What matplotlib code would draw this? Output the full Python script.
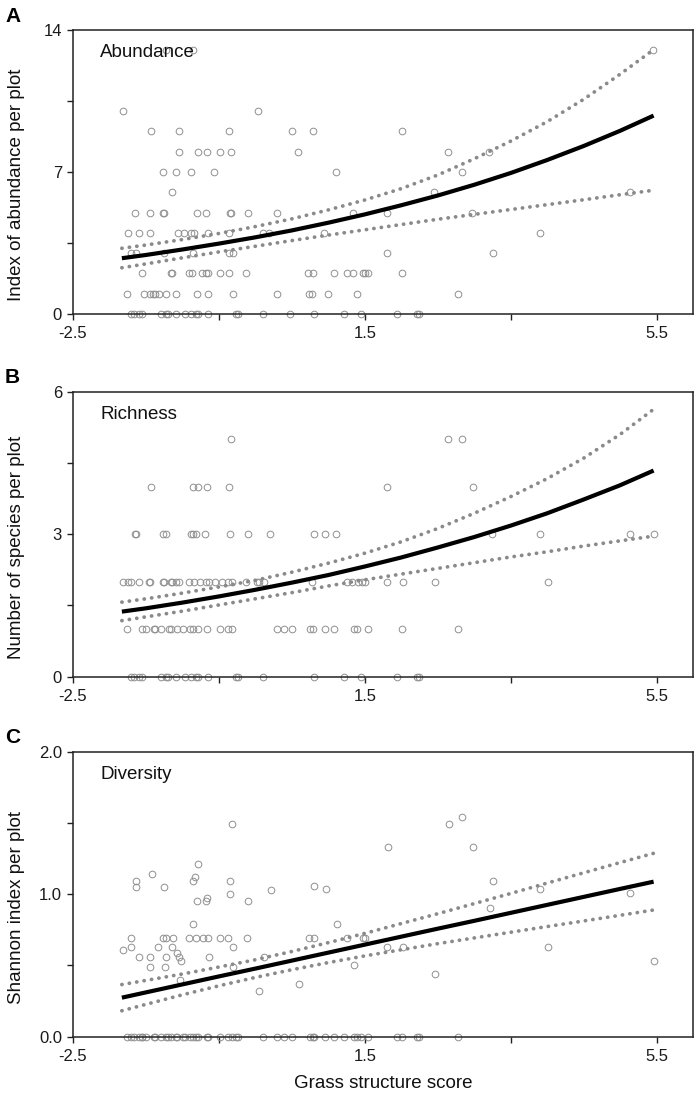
import matplotlib
matplotlib.use("Agg")
import matplotlib.pyplot as plt

plt.rcParams['font.family'] = ['Liberation Sans', 'DejaVu Sans']

# ---------------- data ----------------
# Panel A: abundance, points grouped by y value
abund_rows = {
    13: [-1.23, -0.85, 5.45],
    10: [-1.81, 0.03],
    9: [-1.43, -1.04, -0.36, 0.50, 0.79, 2.01],
    8: [-1.04, -0.79, -0.66, -0.48, -0.33, 0.59, 2.64, 3.21],
    7: [-1.27, -1.09, -0.88, -0.57, 1.10, 2.83],
    6: [-1.14, 2.45, 5.13],
    5: [-1.65, -1.45, -1.26, -1.25, -0.80, -0.68, -0.35, -0.33, -0.10, 0.29,
        1.34, 1.81, 2.97],
    4: [-1.74, -1.60, -1.45, -1.06, -0.98, -0.88, -0.84, -0.65, -0.36, 0.10,
        0.19, 0.94, 3.90],
    3: [-1.71, -1.64, -1.25, -0.86, -0.36, -0.31, 1.80, 3.26],
    2: [-1.56, -1.16, -1.14, -0.91, -0.87, -0.73, -0.68, -0.65, -0.48, -0.36,
        -0.13, 0.72, 0.79, 1.08, 1.26, 1.34, 1.47, 1.51, 1.55, 2.01],
    1: [-1.76, -1.53, -1.44, -1.40, -1.37, -1.32, -1.23, -1.09, -0.80, -0.65,
        -0.31, 0.29, 0.73, 0.78, 0.99, 1.39, 2.78],
    0: [-1.70, -1.66, -1.59, -1.55, -1.29, -1.23, -1.20, -1.09, -0.97, -0.88,
        -0.81, -0.78, -0.65, -0.26, -0.24, 0.10, 0.47, 0.81, 1.21, 1.45, 1.94,
        2.21, 2.24],
}

# Panel B: richness, points grouped by y value
rich_rows = {
    5: [-0.33, 2.64, 2.83],
    4: [-1.43, -0.85, -0.79, -0.66, -0.36, 1.81, 2.98],
    3: [-1.65, -1.63, -1.26, -1.23, -0.88, -0.85, -0.81, -0.69, -0.35, -0.10,
        0.20, 0.80, 0.96, 1.11, 3.25, 3.90, 5.13, 5.46],
    2: [-1.81, -1.74, -1.71, -1.60, -1.46, -1.44, -1.26, -1.25, -1.16, -1.14,
        -1.09, -1.04, -0.91, -0.84, -0.76, -0.68, -0.64, -0.55, -0.46, -0.37,
        -0.32, -0.13, 0.02, 0.05, 0.12, 0.78, 1.26, 1.33, 1.41, 1.46, 1.50,
        1.80, 2.03, 2.46, 4.01],
    1: [-1.76, -1.56, -1.50, -1.39, -1.37, -1.29, -1.19, -1.16, -1.08, -0.99,
        -0.89, -0.86, -0.79, -0.66, -0.48, -0.38, -0.32, 0.29, 0.39, 0.50,
        0.75, 0.79, 0.96, 1.08, 1.35, 1.40, 1.55, 2.01, 2.78],
    0: [-1.70, -1.66, -1.59, -1.55, -1.29, -1.23, -1.20, -1.09, -0.97, -0.88,
        -0.81, -0.78, -0.65, -0.26, -0.24, 0.10, 0.81, 1.21, 1.45, 1.94,
        2.21, 2.24],
}

# Panel C: Shannon diversity (x, y pairs for non-zero plots)
div_x = [-0.32, -0.78, -1.42, -1.63, -1.63, -1.25, -0.83, -0.85, -0.35, -0.35,
         -0.66, -0.67, -0.80, -0.10, 0.21, 0.80, 0.97, 1.12, -0.86,
         -1.71, -1.26, -1.22, -1.13, -0.91, -0.82, -0.72, -0.65, -0.48, -0.37,
         -0.11, 0.73, 0.80, 1.26, 1.48, 1.51,
         -1.81, -1.71, -1.34, -1.14, -1.08, -1.04, -1.02, -0.31,
         -1.60, -1.44, -1.23, -0.64, -1.44, -1.24, -0.31, 0.12, 1.35, 0.60,
         0.05, -1.03,
         2.65, 2.83, 1.82, 2.99, 3.26, 3.90, 5.13, 3.22, 1.81, 2.03, 4.01,
         2.46, 5.46]
div_y = [1.49, 1.21, 1.14, 1.09, 1.05, 1.05, 1.12, 1.09, 1.09, 1.00,
         0.97, 0.95, 0.95, 0.95, 1.03, 1.06, 1.04, 0.79, 0.79,
         0.69, 0.69, 0.69, 0.69, 0.69, 0.69, 0.69, 0.69, 0.69, 0.69,
         0.69, 0.69, 0.69, 0.69, 0.69, 0.69,
         0.61, 0.63, 0.63, 0.63, 0.59, 0.56, 0.53, 0.63,
         0.56, 0.56, 0.56, 0.56, 0.49, 0.49, 0.49, 0.56, 0.50, 0.37,
         0.32, 0.40,
         1.49, 1.54, 1.33, 1.33, 1.09, 1.04, 1.01, 0.90, 0.63, 0.63, 0.63,
         0.44, 0.53]
div_zero_x = [-1.76, -1.70, -1.66, -1.59, -1.56, -1.55, -1.50, -1.39, -1.37,
              -1.29, -1.23, -1.20, -1.16, -1.09, -1.08, -0.99, -0.97, -0.89,
              -0.86, -0.81, -0.78, -0.66, -0.65, -0.48, -0.38, -0.32, -0.26,
              -0.24, 0.10, 0.29, 0.39, 0.50, 0.75, 0.79, 0.81, 0.96, 1.08,
              1.21, 1.35, 1.40, 1.45, 1.55, 1.94, 2.01, 2.21, 2.24, 2.78]

# Fitted curves and confidence limits
curve_x = [-1.83, -1.5, -1.0, -0.5, 0.0, 0.5, 1.0, 1.5, 2.0, 2.5, 3.0, 3.5,
           4.0, 4.5, 5.0, 5.46]
abund_fit = [2.75, 2.91, 3.18, 3.47, 3.78, 4.12, 4.50, 4.91, 5.36, 5.84, 6.37,
             6.95, 7.59, 8.28, 9.03, 9.78]
abund_hi = [3.24, 3.40, 3.67, 3.97, 4.31, 4.69, 5.13, 5.62, 6.18, 6.85, 7.65,
            8.52, 9.48, 10.58, 11.82, 13.03]
abund_lo = [2.28, 2.47, 2.77, 3.06, 3.34, 3.62, 3.89, 4.15, 4.41, 4.67, 4.91,
            5.15, 5.39, 5.63, 5.88, 6.10]
rich_fit = [1.37, 1.44, 1.56, 1.69, 1.83, 1.98, 2.14, 2.32, 2.51, 2.72, 2.94,
            3.18, 3.44, 3.73, 4.03, 4.34]
rich_hi = [1.57, 1.64, 1.76, 1.89, 2.03, 2.20, 2.39, 2.60, 2.84, 3.12, 3.44,
           3.79, 4.17, 4.60, 5.10, 5.63]
rich_lo = [1.18, 1.26, 1.38, 1.51, 1.64, 1.77, 1.91, 2.04, 2.16, 2.28, 2.40,
           2.52, 2.63, 2.75, 2.86, 2.96]
div_fit = [0.274, 0.311, 0.367, 0.423, 0.478, 0.534, 0.590, 0.646, 0.702,
           0.758, 0.813, 0.869, 0.925, 0.981, 1.037, 1.088]
div_hi = [0.366, 0.395, 0.440, 0.489, 0.540, 0.598, 0.660, 0.725, 0.794,
          0.863, 0.934, 1.005, 1.078, 1.150, 1.222, 1.287]
div_lo = [0.182, 0.227, 0.294, 0.357, 0.416, 0.470, 0.520, 0.567, 0.610,
          0.653, 0.693, 0.733, 0.773, 0.812, 0.852, 0.889]

x_ticks = [-2.5, -0.5, 1.5, 3.5, 5.5]
x_ticklabels = ['-2.5', '', '1.5', '', '5.5']
panels = [
    dict(letter='A', title='Abundance', ylabel='Index of abundance per plot',
         yticks=[0, 3.5, 7, 10.5, 14], yticklabels=['0', '', '7', '', '14'],
         ylim=(0, 14), fit=abund_fit, hi=abund_hi, lo=abund_lo),
    dict(letter='B', title='Richness', ylabel='Number of species per plot',
         yticks=[0, 1.5, 3, 4.5, 6], yticklabels=['0', '', '3', '', '6'],
         ylim=(0, 6), fit=rich_fit, hi=rich_hi, lo=rich_lo),
    dict(letter='C', title='Diversity', ylabel='Shannon index per plot',
         yticks=[0, 0.5, 1.0, 1.5, 2.0], yticklabels=['0.0', '', '1.0', '', '2.0'],
         ylim=(0, 2.0), fit=div_fit, hi=div_hi, lo=div_lo),
]

# ---------------- figure ----------------
fig = plt.figure(figsize=(6.99, 10.98), dpi=100)
W, H = 699.0, 1098.0
left_px, right_px = 73.0, 693.0
boxes = [(30.0, 314.0), (391.7, 676.7), (751.7, 1036.7)]

pt_color = '#8f8f8f'
ci_color = '#8a8a8a'
spine_color = '#222222'
mk = dict(linestyle='none', marker='o', ms=4.8, mfc='none', mec=pt_color,
          mew=0.7, clip_on=False, zorder=2)

for i, (p, (top, bot)) in enumerate(zip(panels, boxes)):
    ax = fig.add_axes([left_px / W, 1 - bot / H, (right_px - left_px) / W, (bot - top) / H])

    # scatter points
    if i == 0:
        for yv, xs in abund_rows.items():
            ax.plot(xs, [yv] * len(xs), **mk)
    elif i == 1:
        for yv, xs in rich_rows.items():
            ax.plot(xs, [yv] * len(xs), **mk)
    else:
        ax.plot(div_x, div_y, **mk)
        ax.plot(div_zero_x, [0] * len(div_zero_x), **mk)

    # confidence limits (dotted) and fitted curve (solid)
    for band in (p['hi'], p['lo']):
        ax.plot(curve_x, band, color=ci_color, lw=2.7, linestyle=(0, (0.05, 1.95)),
                dash_capstyle='round', zorder=3)
    ax.plot(curve_x, p['fit'], color='black', lw=3.0, solid_capstyle='butt',
            solid_joinstyle='round', zorder=4)

    ax.set_xlim(-2.5, 6.0)
    ax.set_ylim(*p['ylim'])
    ax.set_xticks(x_ticks)
    ax.set_xticklabels(x_ticklabels)
    ax.set_yticks(p['yticks'])
    ax.set_yticklabels(p['yticklabels'])
    ax.tick_params(axis='both', direction='out', length=4, width=1.0,
                   color=spine_color, labelsize=12, labelcolor='#1a1a1a')
    ax.tick_params(axis='x', pad=5)
    ax.tick_params(axis='y', pad=4)
    for s in ax.spines.values():
        s.set_color(spine_color)
        s.set_linewidth(1.1)

    ax.text(0.044, 0.92, p['title'], transform=ax.transAxes, fontsize=13.5,
            ha='left', va='center', color='#111111')
    ax.set_ylabel(p['ylabel'], fontsize=13.5, color='#111111')
    ax.yaxis.set_label_coords(-0.078, 0.455)

    fig.text(5 / W, 1 - (top - 14) / H, p['letter'], fontsize=15, fontweight='bold',
             ha='left', va='center')

    if i == 2:
        ax.set_xlabel('Grass structure score', fontsize=13.5, color='#111111',
                      labelpad=8)

fig.savefig('out.png', dpi=100)
